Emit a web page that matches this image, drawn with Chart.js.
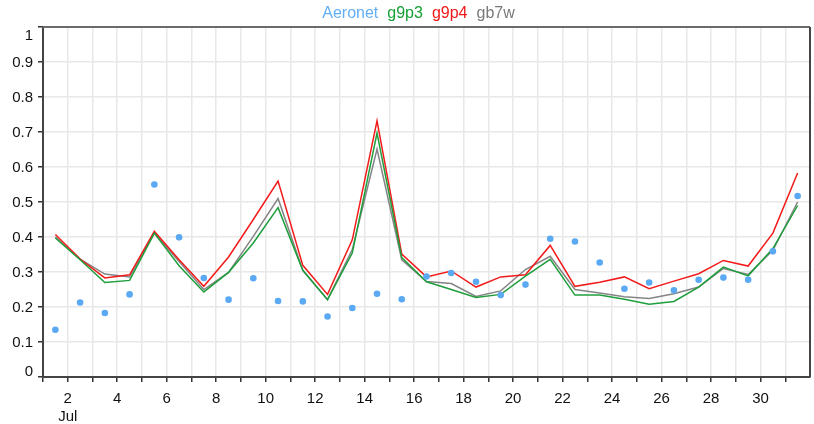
<!DOCTYPE html>
<html>
<head>
<meta charset="utf-8">
<title>AOD July</title>
<script src="https://cdn.jsdelivr.net/npm/chart.js@4/dist/chart.umd.min.js"></script>
<style>
  body { margin: 0; background: #fff; }
  #wrap { width: 814px; height: 424px; }
</style>
</head>
<body>
<div id="wrap"><canvas id="aodChart" width="814" height="424"></canvas></div>
<script>
'use strict';
// day of July (noon of each day)
const days = [1.5,2.5,3.5,4.5,5.5,6.5,7.5,8.5,9.5,10.5,11.5,12.5,13.5,14.5,15.5,16.5,
  17.5,18.5,19.5,20.5,21.5,22.5,23.5,24.5,25.5,26.5,27.5,28.5,29.5,30.5,31.5];

const aeronet = [0.135,0.213,0.183,0.236,0.550,0.399,0.283,0.221,0.282,0.217,0.216,0.173,0.197,0.238,0.222,0.287,
  0.297,0.272,0.234,0.264,0.395,0.387,0.327,0.252,0.270,0.248,0.278,0.284,0.278,0.359,0.517];
const g9p3 = [0.397,0.335,0.270,0.276,0.411,0.318,0.243,0.299,0.383,0.484,0.305,0.221,0.354,0.697,0.341,0.272,
  0.250,0.227,0.236,0.288,0.336,0.234,0.234,0.222,0.208,0.216,0.257,0.314,0.289,0.367,0.490];
const g9p4 = [0.407,0.337,0.283,0.292,0.416,0.335,0.259,0.343,0.450,0.560,0.319,0.236,0.392,0.732,0.351,0.286,
  0.303,0.257,0.286,0.292,0.376,0.259,0.271,0.286,0.252,0.274,0.295,0.333,0.317,0.411,0.583];
const gb7w = [0.400,0.337,0.294,0.286,0.411,0.330,0.250,0.299,0.402,0.510,0.305,0.221,0.364,0.651,0.335,0.273,
  0.267,0.230,0.246,0.307,0.345,0.250,0.240,0.229,0.224,0.238,0.257,0.310,0.293,0.362,0.500];

const yTicks = [0,0.1,0.2,0.3,0.4,0.5,0.6,0.7,0.8,0.9,1];
const monthLabel = 'Jul';

const fontFam = '"Liberation Sans", Arial, Helvetica, sans-serif';

function toPoints(vals){
  let pts=[];
  for(let i=0;i<vals.length;i++){
    pts.push({x: days[i], y: vals[i]});
  }
  return pts;
}

function lineSet(label, vals, color){
  return {
    label: label,
    data: toPoints(vals),
    borderColor: color,
    backgroundColor: color,
    borderWidth: 1.5,
    pointRadius: 0,
    tension: 0,
    showLine: true
  };
}

// top and right edges of the plot box
const frame = {
  id: 'frame',
  afterDraw(chart){
    const a = chart.chartArea;
    const ctx = chart.ctx;
    ctx.save();
    ctx.lineWidth = 2;
    ctx.strokeStyle = '#6b6b6b';
    ctx.beginPath();
    ctx.moveTo(a.left, a.top);
    ctx.lineTo(a.right, a.top);
    ctx.stroke();
    ctx.strokeStyle = '#444';
    ctx.beginPath();
    ctx.moveTo(a.right, a.top);
    ctx.lineTo(a.right, a.bottom);
    ctx.stroke();
    ctx.restore();
  }
};

// keep the legend centred over the plot box, a bit lower
const legendShift = {
  id: 'legendShift',
  afterLayout(chart){
    const lg = chart.legend;
    lg.left = chart.chartArea.left - 12;
    lg.right = chart.chartArea.right - 12;
    lg.width = lg.right - lg.left;
    lg.top += 5;
    lg.bottom += 5;
  }
};

// pull the end labels of the y axis inside the box
const yEndLabels = {
  id: 'yEndLabels',
  beforeDraw(chart){
    const items = chart.scales.y.getLabelItems();
    items.forEach(it => {
      if(it.label === '1') it.options.translation[1] += 9;
      else if(it.label === '0') it.options.translation[1] -= 5;
      else it.options.translation[1] += 1;
    });
  }
};

const legendColors = ['#62aef5','#16a035','#f01818','#7a7a7a'];

let ctx = document.getElementById('aodChart').getContext('2d');
let aodChart = new Chart(ctx, {
  type: 'scatter',
  data: {
    datasets: [{
      label: 'Aeronet',
      data: toPoints(aeronet),
      backgroundColor: '#5aa9f2',
      borderColor: '#5aa9f2',
      pointRadius: 3.3,
      pointBorderWidth: 0,
      showLine: false
    },
    lineSet('g9p3', g9p3, '#1e9e3c'),
    lineSet('g9p4', g9p4, '#f21b1b'),
    lineSet('gb7w', gb7w, '#858585')]
  },
  options: {
    responsive: false,
    devicePixelRatio: 1,
    animation: false,
    layout: { padding: { left: 0, right: 3, top: 0, bottom: 0 } },
    plugins: {
      tooltip: { enabled: false },
      legend: {
        display: true,
        position: 'top',
        align: 'center',
        labels: {
          padding: 1,
          boxWidth: 0,
          font: { family: fontFam, size: 16 },
          generateLabels(chart){
            return chart.data.datasets.map((ds, i) => ({
              text: ds.label,
              fontColor: legendColors[i],
              fillStyle: 'rgba(0,0,0,0)',
              strokeStyle: 'rgba(0,0,0,0)',
              lineWidth: 0,
              hidden: false,
              datasetIndex: i
            }));
          }
        }
      }
    },
    scales: {
      x: {
        type: 'linear',
        min: 1,
        max: 32,
        afterBuildTicks(scale){
          let t=[];
          for(let d=1; d<=31; d++) t.push({value: d});
          scale.ticks = t;
        },
        afterFit(scale){ scale.height = 47; },
        ticks: {
          autoSkip: false,
          maxRotation: 0,
          padding: 8,
          color: '#111',
          font: { family: fontFam, size: 15 },
          callback(v){
            if(v % 2 !== 0) return '';
            if(v === 2) return [String(v), monthLabel];
            return String(v);
          }
        },
        grid: { color: '#e8e8e8', lineWidth: 1.5, tickColor: '#333', tickLength: 5, tickWidth: 1.5 },
        border: { display: true, color: '#444', width: 2 }
      },
      y: {
        min: 0,
        max: 1,
        afterBuildTicks(scale){
          scale.ticks = yTicks.map(v => ({value: v}));
        },
        afterFit(scale){ scale.width = 43; },
        ticks: {
          padding: 5,
          color: '#111',
          font: { family: fontFam, size: 15 },
          callback(v){ return String(+v.toFixed(1)); }
        },
        grid: { color: '#e8e8e8', lineWidth: 1.5, tickColor: '#333', tickLength: 5, tickWidth: 1.5 },
        border: { display: true, color: '#444', width: 2 }
      }
    }
  },
  plugins: [frame, legendShift, yEndLabels]
});
</script>
</body>
</html>
